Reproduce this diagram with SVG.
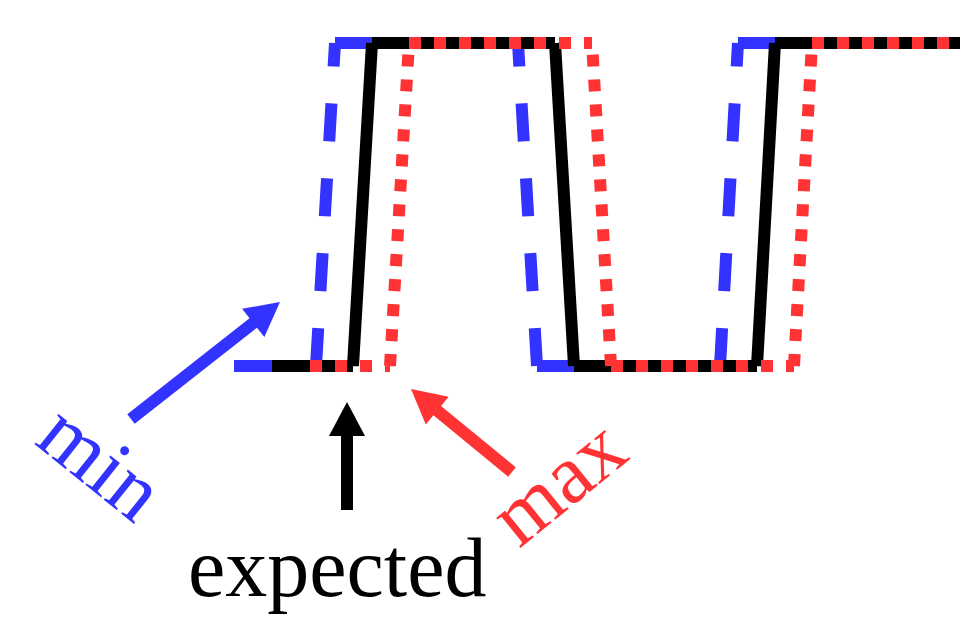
<svg xmlns="http://www.w3.org/2000/svg" width="960" height="618" viewBox="0 0 960 618">
  <style>
    .wave { fill: none; stroke-width: 12; stroke-linejoin: miter; stroke-linecap: butt; }
    .min { stroke: #3333ff; stroke-dasharray: 38 37; }
    .exp { stroke: #000000; }
    .max { stroke: #ff3333; stroke-dasharray: 12 13; }
    .arrow { fill: none; stroke-width: 12; }
    .lbl { font-family: "Liberation Serif", "Times New Roman", serif; font-size: 84px; }
  </style>
  <defs>
    <marker id="headBlue" markerUnits="userSpaceOnUse" markerWidth="36" markerHeight="36" viewBox="0 0 34 36" refX="2" refY="18" orient="auto">
      <path d="M0,0 L34,18 L0,36 z" fill="#3333ff"/>
    </marker>
    <marker id="headBlack" markerUnits="userSpaceOnUse" markerWidth="36" markerHeight="36" viewBox="0 0 34 36" refX="2" refY="18" orient="auto">
      <path d="M0,0 L34,18 L0,36 z" fill="#000000"/>
    </marker>
    <marker id="headRed" markerUnits="userSpaceOnUse" markerWidth="36" markerHeight="36" viewBox="0 0 34 36" refX="2" refY="18" orient="auto">
      <path d="M0,0 L34,18 L0,36 z" fill="#ff3333"/>
    </marker>
  </defs>

  <g id="waveforms">
    <path id="wave-min" class="wave min" d="M234,366 H316 M316,366 L335,43 M335,43 H518 M537,366 L518,43 M537,366 H720 M720,366 L738,43 M738,43 H960"/>
    <path id="wave-expected" class="wave exp" d="M272,366 H353 M353,366 L372,43 M372,43 H555 M574,366 L555,43 M574,366 H757 M757,366 L775,43 M775,43 H960"/>
    <path id="wave-max" class="wave max" d="M310,366 H390 M390,366 L409,43 M409,43 H592 M611,366 L592,43 M611,366 H794 M794,366 L812,43 M812,43 H970"/>
  </g>

  <g id="connectors">
    <line class="arrow" stroke="#3333ff" x1="131" y1="419" x2="254.8" y2="321.7" marker-end="url(#headBlue)"/>
    <line class="arrow" stroke="#000000" x1="347" y1="510" x2="347" y2="434" marker-end="url(#headBlack)"/>
    <line class="arrow" stroke="#ff3333" x1="512" y1="472" x2="435.7" y2="409.3" marker-end="url(#headRed)"/>
  </g>

  <g id="label-min">
    <text class="lbl" fill="#3333ff" transform="translate(33,443) rotate(38.7)">min</text>
  </g>
  <g id="label-expected">
    <text class="lbl" fill="#000000" x="188" y="596">expected</text>
  </g>
  <g id="label-max">
    <text class="lbl" fill="#ff3333" transform="translate(519,549) rotate(-39)">max</text>
  </g>
</svg>
